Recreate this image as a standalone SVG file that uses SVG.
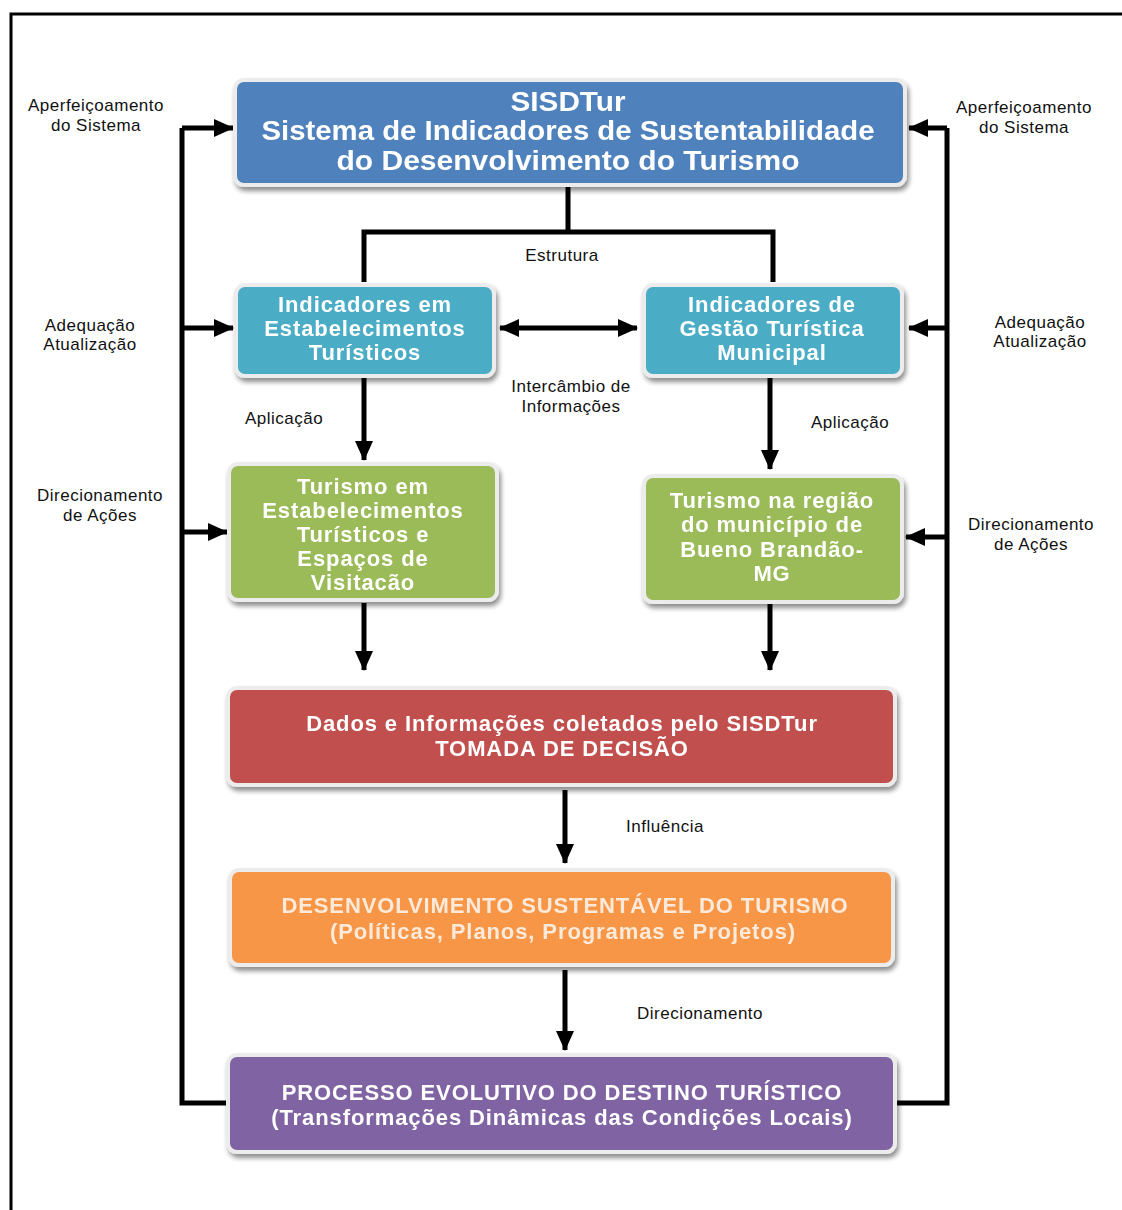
<svg xmlns="http://www.w3.org/2000/svg" width="1122" height="1210" viewBox="0 0 1122 1210">
<style>
.bw{font-family:"Liberation Sans",Arial,sans-serif;font-weight:bold;fill:#ffffff;text-anchor:middle;font-size:22px;letter-spacing:0.9px}
.tp{font-size:27px;letter-spacing:0}
.cr{fill:#fdeada}
.lb{font-family:"Liberation Sans",Arial,sans-serif;font-size:17px;letter-spacing:0.5px;fill:#111;text-anchor:middle}
.ln{fill:none;stroke:#000;stroke-width:5}
.box{stroke:#ececec;stroke-width:4}
</style>
<defs>
<marker id="ah" markerUnits="userSpaceOnUse" markerWidth="22" markerHeight="20" refX="19" refY="10" orient="auto-start-reverse">
<path d="M0,1 L20,10 L0,19 Z" fill="#000"/>
</marker>
<filter id="sh" x="-5%" y="-10%" width="112%" height="130%">
<feGaussianBlur in="SourceAlpha" stdDeviation="2.5"/>
<feOffset dx="2" dy="4" result="b"/>
<feComponentTransfer><feFuncA type="linear" slope="0.45"/></feComponentTransfer>
<feMerge><feMergeNode/><feMergeNode in="SourceGraphic"/></feMerge>
</filter>
</defs>
<rect width="1122" height="1210" fill="#fff"/>
<path d="M11,1210 V14 H1122" fill="none" stroke="#000" stroke-width="3"/>

<g id="connectors">
<path class="ln" d="M228,1103 H182 V128"/>
<path class="ln" d="M895,1103 H947 V128"/>
<path class="ln" d="M182,128 H233" marker-end="url(#ah)"/>
<path class="ln" d="M182,328 H233" marker-end="url(#ah)"/>
<path class="ln" d="M182,532 H227" marker-end="url(#ah)"/>
<path class="ln" d="M947,128 H909" marker-end="url(#ah)"/>
<path class="ln" d="M947,328 H909" marker-end="url(#ah)"/>
<path class="ln" d="M947,537 H906" marker-end="url(#ah)"/>
<path class="ln" d="M568,185 V232 M364,282 V232 H773 V282"/>
<path class="ln" d="M500,328 H637" marker-start="url(#ah)" marker-end="url(#ah)"/>
<path class="ln" d="M364,378 V460" marker-end="url(#ah)"/>
<path class="ln" d="M770,378 V469" marker-end="url(#ah)"/>
<path class="ln" d="M364,603 V670" marker-end="url(#ah)"/>
<path class="ln" d="M770,603 V670" marker-end="url(#ah)"/>
<path class="ln" d="M565,790 V863" marker-end="url(#ah)"/>
<path class="ln" d="M565,970 V1050" marker-end="url(#ah)"/>
</g>

<g id="labels">
<text class="lb" x="96" y="111">Aperfeiçoamento</text>
<text class="lb" x="96" y="131">do Sistema</text>
<text class="lb" x="1024" y="113">Aperfeiçoamento</text>
<text class="lb" x="1024" y="133">do Sistema</text>
<text class="lb" x="90" y="331">Adequação</text>
<text class="lb" x="90" y="350">Atualização</text>
<text class="lb" x="1040" y="328">Adequação</text>
<text class="lb" x="1040" y="347">Atualização</text>
<text class="lb" x="100" y="501">Direcionamento</text>
<text class="lb" x="100" y="521">de Ações</text>
<text class="lb" x="1031" y="530">Direcionamento</text>
<text class="lb" x="1031" y="550">de Ações</text>
<text class="lb" x="562" y="261">Estrutura</text>
<text class="lb" x="571" y="392">Intercâmbio de</text>
<text class="lb" x="571" y="412">Informações</text>
<text class="lb" x="284" y="424">Aplicação</text>
<text class="lb" x="850" y="428">Aplicação</text>
<text class="lb" x="665" y="832">Influência</text>
<text class="lb" x="700" y="1019">Direcionamento</text>
</g>

<g id="sisdtur" filter="url(#sh)">
<rect class="box" x="235" y="80" width="670" height="105" rx="9" fill="#4F81BD"/>
<text class="bw tp" x="568" y="111" textLength="115" lengthAdjust="spacingAndGlyphs">SISDTur</text>
<text class="bw tp" x="568" y="140" textLength="613" lengthAdjust="spacingAndGlyphs">Sistema de Indicadores de Sustentabilidade</text>
<text class="bw tp" x="568" y="170" textLength="463" lengthAdjust="spacingAndGlyphs">do Desenvolvimento do Turismo</text>
</g>

<g id="ind-estab" filter="url(#sh)">
<rect class="box" x="236" y="285" width="258" height="91" rx="9" fill="#4BACC6"/>
<text class="bw" x="365" y="312">Indicadores em</text>
<text class="bw" x="365" y="336">Estabelecimentos</text>
<text class="bw" x="365" y="360">Turísticos</text>
</g>

<g id="ind-gestao" filter="url(#sh)">
<rect class="box" x="644" y="285" width="258" height="91" rx="9" fill="#4BACC6"/>
<text class="bw" x="772" y="312">Indicadores de</text>
<text class="bw" x="772" y="336">Gestão Turística</text>
<text class="bw" x="772" y="360">Municipal</text>
</g>

<g id="tur-estab" filter="url(#sh)">
<rect class="box" x="229" y="464" width="268" height="136" rx="9" fill="#9BBB59"/>
<text class="bw" x="363" y="494">Turismo em</text>
<text class="bw" x="363" y="518">Estabelecimentos</text>
<text class="bw" x="363" y="542">Turísticos e</text>
<text class="bw" x="363" y="566">Espaços de</text>
<text class="bw" x="363" y="590">Visitacão</text>
</g>

<g id="tur-regiao" filter="url(#sh)">
<rect class="box" x="644" y="476" width="258" height="126" rx="9" fill="#9BBB59"/>
<text class="bw" x="772" y="508">Turismo na região</text>
<text class="bw" x="772" y="532">do município de</text>
<text class="bw" x="772" y="557">Bueno Brandão-</text>
<text class="bw" x="772" y="581">MG</text>
</g>

<g id="dados" filter="url(#sh)">
<rect class="box" x="228" y="688" width="667" height="97" rx="9" fill="#C0504D"/>
<text class="bw" x="562" y="731">Dados e Informações coletados pelo SISDTur</text>
<text class="bw" x="562" y="756">TOMADA DE DECISÃO</text>
</g>

<g id="desenv" filter="url(#sh)">
<rect class="box" x="230" y="870" width="663" height="95" rx="9" fill="#F79646"/>
<text class="bw cr" x="565" y="913">DESENVOLVIMENTO SUSTENTÁVEL DO TURISMO</text>
<text class="bw cr" x="563" y="939">(Políticas, Planos, Programas e Projetos)</text>
</g>

<g id="processo" filter="url(#sh)">
<rect class="box" x="228" y="1055" width="667" height="97" rx="9" fill="#8064A2"/>
<text class="bw" x="562" y="1100">PROCESSO EVOLUTIVO DO DESTINO TURÍSTICO</text>
<text class="bw" x="562" y="1125">(Transformações Dinâmicas das Condições Locais)</text>
</g>
</svg>
